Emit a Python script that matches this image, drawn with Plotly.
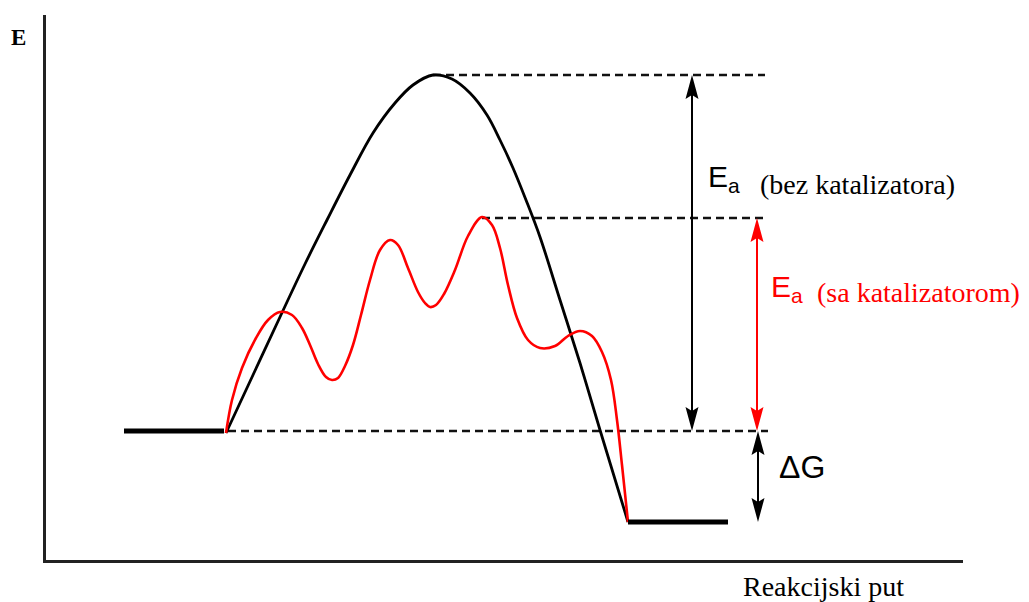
import plotly.graph_objects as go

# energy profile, x = reaction coordinate, E = energy (arbitrary units)
react_x = [78, 178]
react_E = [129, 129]
prod_x = [582, 682]
prod_E = [38, 38]

# uncatalysed path
black_x = [180, 207, 234, 259, 281, 304, 327, 349, 367, 387, 406, 424, 441, 454, 467, 480, 494, 514, 534, 554, 582]
black_E = [127, 185, 243, 296, 340, 385, 427, 457, 475, 485, 481, 467, 445, 420, 392, 360, 323, 260, 197, 130, 38]

# catalysed path
red_x = [180, 186, 196, 210, 222, 234, 246, 256, 264, 272, 280, 286, 292, 299, 307, 315, 324, 334, 344, 352,
         362, 372, 379, 384, 390, 398, 409, 422, 436, 446, 454, 462, 471, 482, 494, 509, 522, 534, 546, 556,
         565, 571, 576, 582]
red_E = [127, 160, 192, 222, 240, 248, 245, 232, 215, 196, 183, 180, 182, 194, 215, 245, 280, 310, 320, 315,
         292, 268, 257, 253, 255, 266, 290, 324, 343, 335, 312, 275, 242, 220, 212, 214, 224, 229, 224, 208,
         180, 140, 95, 38]

E_peak = 485
E_peak_cat = 342
E_react = 129
E_prod = 38

OFF = 8  # page body margin
W, H = 1029 - OFF, 602 - OFF

fig = go.Figure()

# reference dashed levels
dash_style = dict(color="#111", width=2.5, dash="8px,5px")
fig.add_trace(go.Scatter(x=[387, 719], y=[E_peak, E_peak], mode="lines", line=dash_style))
fig.add_trace(go.Scatter(x=[436, 720], y=[E_peak_cat, E_peak_cat], mode="lines", line=dash_style))
fig.add_trace(go.Scatter(x=[182, 722], y=[E_react, E_react], mode="lines", line=dash_style))

# curves
fig.add_trace(go.Scatter(x=black_x, y=black_E, mode="lines",
                         line=dict(color="black", width=2.8, shape="spline", smoothing=1.0)))
fig.add_trace(go.Scatter(x=red_x, y=red_E, mode="lines",
                         line=dict(color="#ff0000", width=2.6, shape="spline", smoothing=1.0)))

# reactant / product levels
fig.add_trace(go.Scatter(x=react_x, y=react_E, mode="lines", line=dict(color="black", width=5)))
fig.add_trace(go.Scatter(x=prod_x, y=prod_E, mode="lines", line=dict(color="black", width=5)))


def double_arrow(x, y0, y1, color):
    # shaft plus two long narrow heads (1 unit = 1 px here)
    L, w, n = 24, 6.5, 4
    fig.add_trace(go.Scatter(x=[x, x], y=[y0 + L - n, y1 - L + n], mode="lines",
                             line=dict(color=color, width=2)))
    fig.add_shape(type="path", line=dict(width=0), fillcolor=color,
                  path=f"M{x},{y0} L{x - w},{y0 + L} L{x},{y0 + L - n} L{x + w},{y0 + L} Z")
    fig.add_shape(type="path", line=dict(width=0), fillcolor=color,
                  path=f"M{x},{y1} L{x - w},{y1 - L} L{x},{y1 - L + n} L{x + w},{y1 - L} Z")


double_arrow(646, E_react, E_peak, "black")
double_arrow(711, E_react, E_peak_cat, "#ff0000")
double_arrow(712, E_prod, E_react, "black")

sans = "Liberation Sans, Arial, sans-serif"
serif = "Liberation Serif, Times New Roman, serif"

ann = [
    dict(x=660, y=382, text="E<sub>a</sub>", font=dict(family=sans, size=30, color="black")),
    dict(x=712, y=376, text="(bez katalizatora)", font=dict(family=serif, size=28, color="black")),
    dict(x=723, y=272, text="E<sub>a</sub>", font=dict(family=sans, size=30, color="#ff0000")),
    dict(x=769, y=268, text="(sa katalizatorom)", font=dict(family=serif, size=28, color="#ff0000")),
    dict(x=731, y=93, text="ΔG", font=dict(family=sans, size=32, color="black")),
]
for a in ann:
    fig.add_annotation(xref="x", yref="y", showarrow=False, xanchor="left", yanchor="middle", **a)

# axis names sit outside the plotting range, so place them on the page
fig.add_annotation(xref="paper", yref="paper", x=(741 - OFF) / W, y=1 - (586 - OFF) / H,
                   text="Reakcijski put", showarrow=False, xanchor="left", yanchor="middle",
                   font=dict(family=serif, size=28, color="black"))
fig.add_annotation(xref="paper", yref="paper", x=(9 - OFF) / W, y=1 - (38 - OFF) / H,
                   text="<b>E</b>", showarrow=False, xanchor="left", yanchor="middle",
                   font=dict(family=serif, size=23, color="black"))

fig.update_layout(
    width=W, height=H,
    margin=dict(l=0, r=0, t=0, b=0),
    paper_bgcolor="white", plot_bgcolor="white",
    showlegend=False,
    xaxis=dict(domain=[(46 - OFF) / W, (963 - OFF) / W], range=[0, 917], showline=True, linecolor="#222",
               linewidth=2.5, showgrid=False, zeroline=False, showticklabels=False, ticks=""),
    yaxis=dict(domain=[1 - (560 - OFF) / H, 1 - (15 - OFF) / H], range=[0, 545], showline=True,
               linecolor="#222", linewidth=2.5, showgrid=False, zeroline=False, showticklabels=False,
               ticks=""),
)

fig.write_html("out.html")
